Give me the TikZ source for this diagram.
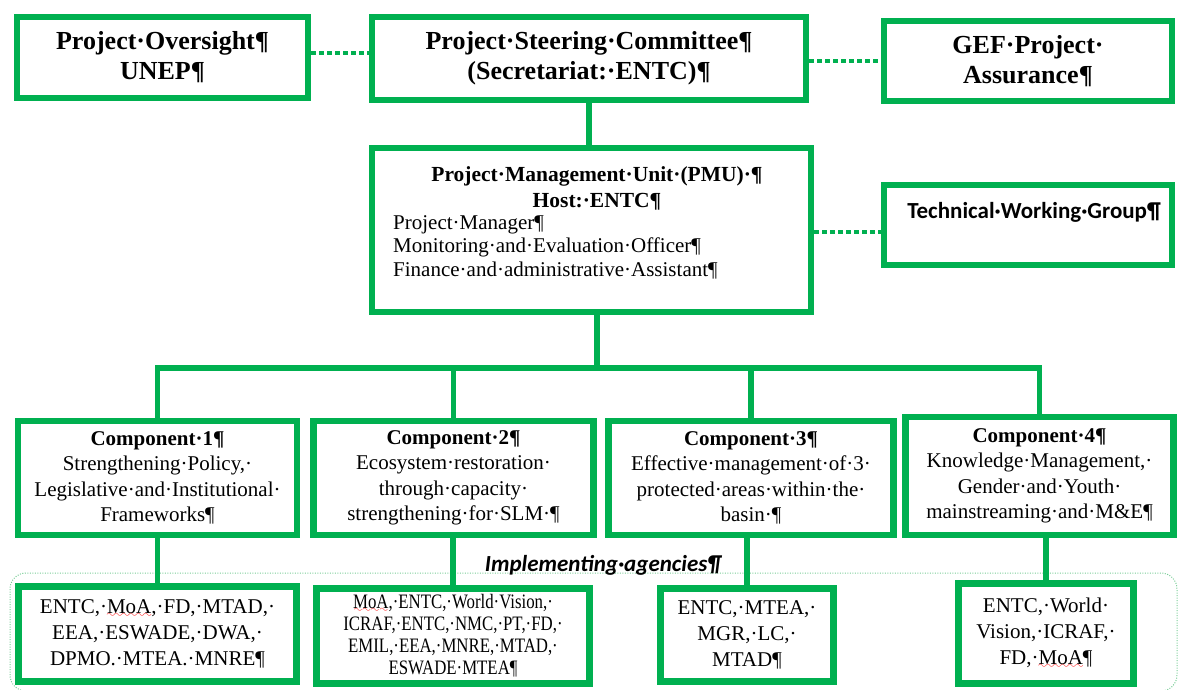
\documentclass[tikz,border=0pt]{standalone}
\usepackage{fontspec}
\setmainfont{Liberation Serif}
\newfontfamily\calibrifont{Carlito}
\newfontfamily\narrowserif[FakeStretch=0.82]{Liberation Serif}
\definecolor{boxgreen}{RGB}{0,176,80}
\definecolor{framegreen}{RGB}{120,205,150}
% spell-check wave under a word
\font\spellwave=lasy10 at 11pt
\newsavebox\spellbox
\newcommand\spellmark[1]{\sbox\spellbox{#1}\rlap{\color{red}\lower4pt\hbox to\wd\spellbox{\spellwave\xleaders\hbox{\char58}\hfill}}#1}

\begin{document}
\begin{tikzpicture}[x=1pt,y=-1pt,
    orgbox/.style={draw=boxgreen, line width=6.5pt, fill=white, inner sep=0pt, align=center},
    link/.style={boxgreen, line width=5.5pt},
    dotlink/.style={boxgreen, line width=4.5pt, dash pattern=on 4.5pt off 3.5pt},
    agencyframe/.style={framegreen, line width=1pt, dash pattern=on 1pt off 1.5pt, rounded corners=16pt},
    headtext/.style={font=\fontsize{26}{30}\selectfont\bfseries},
    pmuhead/.style={font=\fontsize{21.5}{26}\selectfont\bfseries, inner sep=0pt, align=center},
    pmubody/.style={font=\fontsize{21}{23.5}\selectfont, inner sep=0pt, align=left},
    comptext/.style={font=\fontsize{21}{25.5}\selectfont},
    agtext/.style={font=\fontsize{21}{26}\selectfont},
    narrowtext/.style={font=\narrowserif\fontsize{20.5}{22}\selectfont},
    calibritext/.style={font=\calibrifont\fontsize{23}{27}\selectfont\bfseries, inner sep=0pt}]
    \useasboundingbox (0,0) rectangle (1185,689);

    % Top row
    \node[orgbox, headtext, minimum width=291pt, minimum height=81pt] (ovs) at (162.5,57.5) {Project·Oversight¶\\UNEP¶};
    \node[orgbox, headtext, minimum width=434pt, minimum height=83pt] (psc) at (589,58.5) {Project·Steering·Committee¶\\(Secretariat:·ENTC)¶};
    \node[orgbox, headtext, minimum width=288pt, minimum height=80pt] (gef) at (1028,61) {GEF·Project·\\Assurance¶};

    % Management unit
    \node[orgbox, minimum width=439pt, minimum height=164pt] (pmu) at (591.5,230) {};
    \node[pmuhead, anchor=north] (pmutitle) at (597,166) {Project·Management·Unit·(PMU)·¶\\Host:·ENTC¶};
    \node[pmubody, anchor=north west] (pmustaff) at (393,215) {Project·Manager¶\\Monitoring·and·Evaluation·Officer¶\\Finance·and·administrative·Assistant¶};
    \node[orgbox, minimum width=288pt, minimum height=80pt] (twg) at (1028,225) {};
    \node[calibritext] (twgtext) at (1034,212) {Technical·Working·Group¶};

    % Components
    \node[orgbox, comptext, minimum width=279pt, minimum height=114pt] (c1) at (157.5,478) {\textbf{Component·1¶}\\Strengthening·Policy,·\\Legislative·and·Institutional·\\Frameworks¶};
    \node[orgbox, comptext, minimum width=280pt, minimum height=114pt] (c2) at (453.5,478) {\textbf{Component·2¶}\\Ecosystem·restoration·\\through·capacity·\\strengthening·for·SLM·¶};
    \node[orgbox, comptext, minimum width=285pt, minimum height=114pt] (c3) at (751,478) {\textbf{Component·3¶}\\Effective·management·of·3·\\protected·areas·within·the·\\basin·¶};
    \node[orgbox, comptext, minimum width=268pt, minimum height=118pt] (c4) at (1039.5,476) {\textbf{Component·4¶}\\Knowledge·Management,·\\Gender·and·Youth·\\mainstreaming·and·M\&E¶};

    % Implementing agencies
    \node[orgbox, agtext, minimum width=278pt, minimum height=95pt] (a1) at (157.5,634) {ENTC,·\spellmark{MoA},·FD,·MTAD,·\\EEA,·ESWADE,·DWA,·\\DPMO.·MTEA.·MNRE¶};
    \node[orgbox, narrowtext, minimum width=273pt, minimum height=95pt] (a2) at (453,636) {\spellmark{MoA},·ENTC,·World·Vision,·\\ICRAF,·ENTC,·NMC,·PT,·FD,·\\EMIL,·EEA,·MNRE,·MTAD,·\\ESWADE·MTEA¶};
    \node[orgbox, agtext, minimum width=173pt, minimum height=93pt] (a3) at (747,635) {ENTC,·MTEA,·\\MGR,·LC,·\\MTAD¶};
    \node[orgbox, agtext, minimum width=175pt, minimum height=100pt] (a4) at (1046,633.5) {ENTC,·World·\\Vision,·ICRAF,·\\FD,·\spellmark{MoA}¶};

    \draw[agencyframe] (10,573) rectangle (1177,691);
    \node[calibritext, font=\calibrifont\fontsize{23}{27}\selectfont\bfseries\itshape, anchor=base] (implab) at (603,571) {Implementing·agencies¶};

    % Dotted links
    \draw[dotlink] ([yshift=4.5pt]ovs.east) -- ([yshift=4.5pt]ovs.east -| psc.west);
    \draw[dotlink] (gef.west -| psc.east) -- (gef.west);
    \draw[dotlink] ([yshift=-7pt]twg.west -| pmu.east) -- ([yshift=-7pt]twg.west);

    % Solid links
    \draw[link] (psc.south) -- (psc.south |- pmu.north);
    \coordinate (bus) at (597,368);
    \draw[link] (bus |- pmu.south) -- (bus);
    \draw[link, line cap=rect] (c1.north |- bus) -- (c4.north |- bus);
    \foreach \c in {c1,c2,c3,c4}
        \draw[link] (\c.north |- bus) -- (\c.north);
    \foreach \c/\a in {c1/a1,c2/a2,c3/a3,c4/a4}
        \draw[link] (\a.north |- \c.south) -- (\a.north);
\end{tikzpicture}
\end{document}
